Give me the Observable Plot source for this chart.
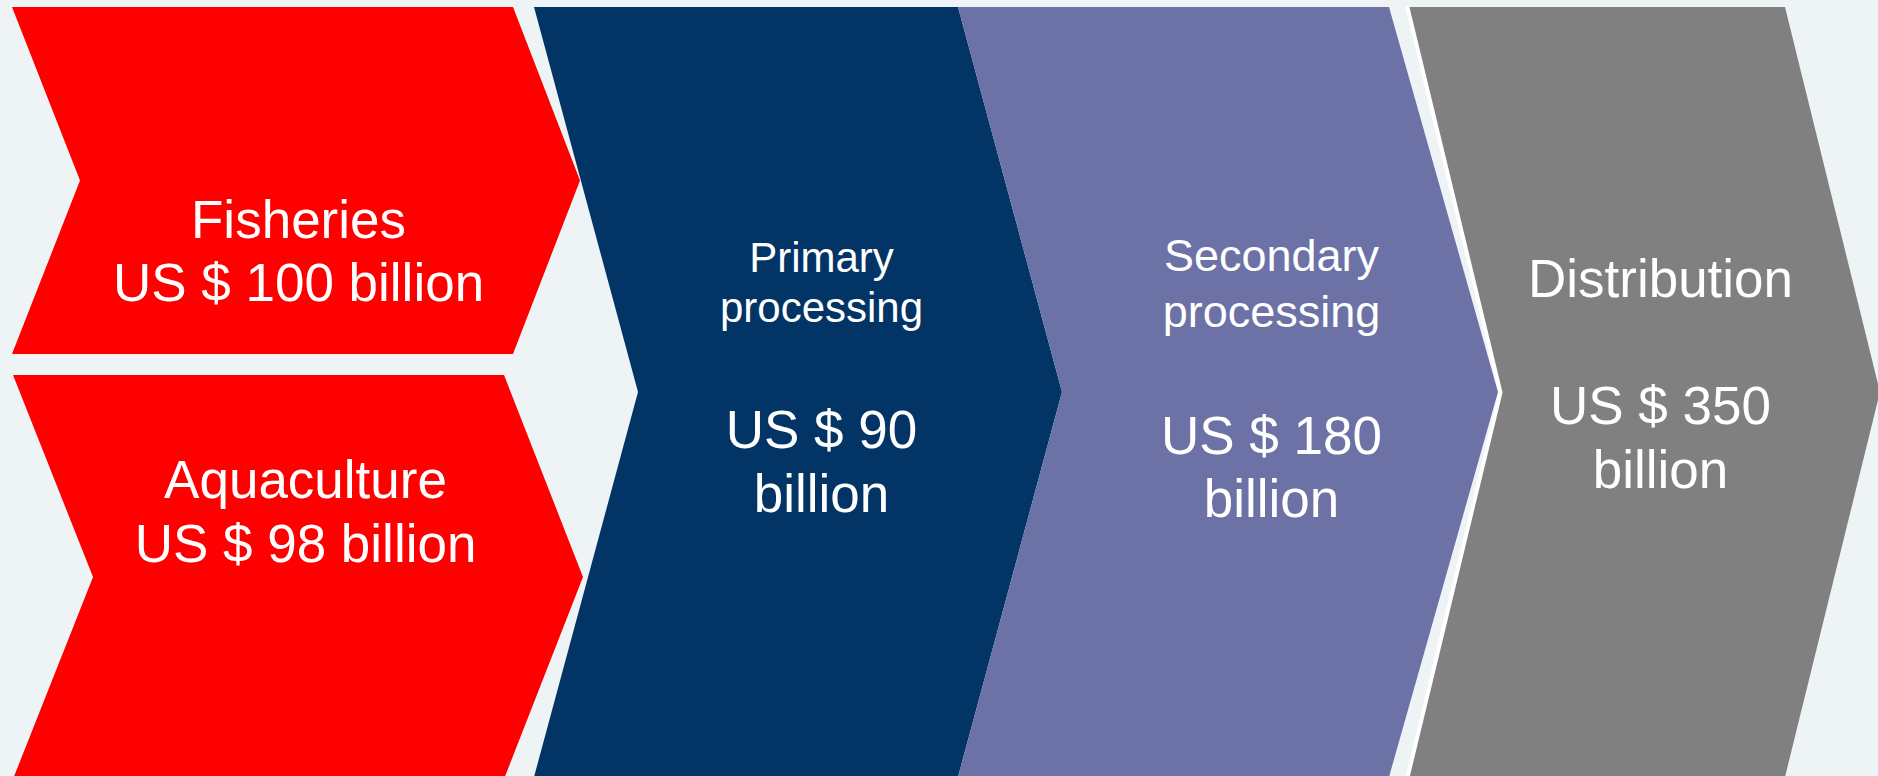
<!DOCTYPE html>
<html>
<head>
<meta charset="utf-8">
<script src="https://cdn.jsdelivr.net/npm/d3@7"></script>
<script src="https://cdn.jsdelivr.net/npm/@observablehq/plot@0.6"></script>
<style>
  html, body { margin: 0; padding: 0; background: #eef4f6; overflow: hidden; }
</style>
</head>
<body>
<div id="chart"></div>
<script>
// ---- data ----
const stages = ["Fisheries", "Aquaculture", "Primary processing", "Secondary processing", "Distribution"];
const valuesBn = [100, 98, 90, 180, 350];
const nameLines = [["Fisheries"], ["Aquaculture"], ["Primary", "processing"], ["Secondary", "processing"], ["Distribution"]];
const valueSplit = [false, false, true, true, true]; // value written on two lines
const colors = ["#ff0000", "#ff0000", "#023466", "#6c71a6", "#808080"];

// ---- layout (pixel geometry of the diagram) ----
const W = 1878, H = 776;
const shapes = [
  {left: 12, right: 513, notch: 80, tip: 580, top: 7, bottom: 354},
  {left: 13, right: 504, notch: 93, tip: 583, top: 375, bottom: 779},
  {left: 534, right: 958, notch: 638, tip: 1062, top: 7, bottom: 777},
  {left: 958, right: 1389, notch: 1062, tip: 1498, top: 7, bottom: 777},
  {left: 1407, right: 1785, notch: 1500, tip: 1880, top: 7, bottom: 777}
];
const textLayout = [
  {cx: 298, nameY: [237], nameSize: 53, valY: [300], valSize: 53},
  {cx: 305, nameY: [497], nameSize: 53, valY: [561], valSize: 53},
  {cx: 821, nameY: [271, 321], nameSize: 42, valY: [447, 511], valSize: 53},
  {cx: 1271, nameY: [270, 326], nameSize: 45, valY: [453, 516], valSize: 53},
  {cx: 1660, nameY: [296], nameSize: 53, valY: [423, 487], valSize: 53}
];

// polygon rows: left boundary (x1) and right boundary (x2) at top, middle, bottom
const rows = [];
shapes.forEach((s, i) => {
  const mid = (s.top + s.bottom) / 2;
  rows.push({stage: stages[i], y: s.top, x1: s.left, x2: s.right});
  rows.push({stage: stages[i], y: mid, x1: s.notch, x2: s.tip});
  rows.push({stage: stages[i], y: s.bottom, x1: s.left, x2: s.right});
});

// text rows
const texts = [];
stages.forEach((st, i) => {
  const L = textLayout[i];
  nameLines[i].forEach((t, k) => texts.push({text: t, x: L.cx, y: L.nameY[k], size: L.nameSize}));
  const vl = valueSplit[i] ? [`US $ ${valuesBn[i]}`, "billion"] : [`US $ ${valuesBn[i]} billion`];
  vl.forEach((t, k) => texts.push({text: t, x: L.cx, y: L.valY[k], size: L.valSize}));
});

const marks = stages.map((st, i) =>
  Plot.areaX(rows.filter(r => r.stage === st), {
    y: "y", x1: "x1", x2: "x2", fill: colors[i], curve: "linear"
  })
);
// thin white outline along the notched edge of the last chevron
marks.push(Plot.line(rows.filter(r => r.stage === stages[4]), {
  x: "x1", y: "y", stroke: "#ffffff", strokeWidth: 4, curve: "linear"
}));
for (const s of [...new Set(texts.map(t => t.size))]) {
  marks.push(Plot.text(texts.filter(t => t.size === s), {
    x: "x", y: "y", text: "text",
    fill: "#ffffff", fontSize: s, lineAnchor: "bottom", textAnchor: "middle"
  }));
}

const chart = Plot.plot({
  width: W, height: H,
  margin: 0,
  x: {domain: [0, W], axis: null},
  y: {domain: [0, H], reverse: true, axis: null},
  style: {fontFamily: "'Liberation Sans', Arial, sans-serif", background: "#eef4f6", overflow: "hidden"},
  marks
});
document.getElementById("chart").appendChild(chart);
</script>
</body>
</html>
